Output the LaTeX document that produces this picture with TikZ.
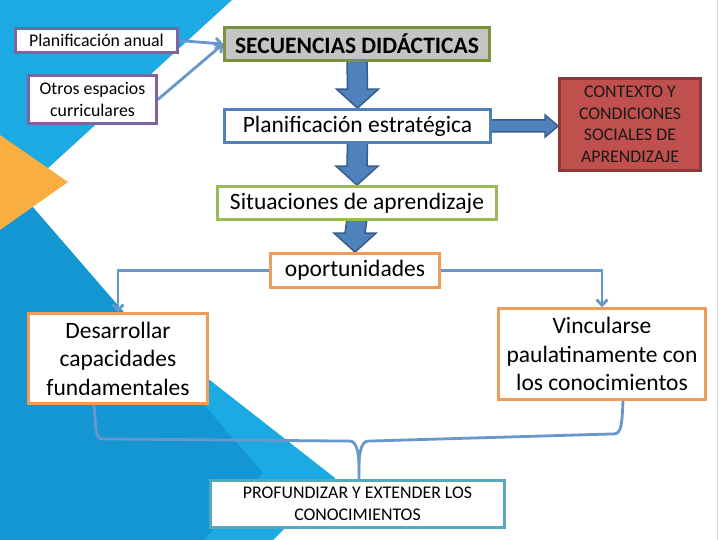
\documentclass[tikz,border=0pt]{standalone}
\usepackage{fontspec}
\setmainfont{Carlito}
\usetikzlibrary{arrows.meta,calc}
\definecolor{bgblue}{HTML}{1BAAE2}
\definecolor{bgdark}{HTML}{1496D2}
\definecolor{bgorange}{HTML}{F8AE40}
\definecolor{cpurple}{HTML}{8064A2}
\definecolor{colive}{HTML}{77933C}
\definecolor{cgray}{HTML}{C4C4C4}
\definecolor{cblue}{HTML}{4F81BD}
\definecolor{cbluedark}{HTML}{385D8A}
\definecolor{cgreen}{HTML}{9BBB59}
\definecolor{corange}{HTML}{EE9C5A}
\definecolor{cred}{HTML}{C0504D}
\definecolor{creddark}{HTML}{8C3836}
\definecolor{cteal}{HTML}{55A8C0}
\definecolor{conn}{HTML}{6897CC}
\pgfdeclarelayer{back}
\pgfdeclarelayer{mid}
\pgfsetlayers{back,mid,main}
\newcommand\blockdown[2]{%
  \draw[blockarrow] ($(#1.south)+(-10,-2)$) -- ($(#2.north)+(-10,-19)$) --
    ($(#2.north)+(-21,-19)$) -- (#2.north) -- ($(#2.north)+(21,-19)$) --
    ($(#2.north)+(10,-19)$) -- ($(#1.south)+(10,-2)$) -- cycle;}
\tikzset{
  box/.style={draw, line width=2.8pt, fill=white, inner sep=0pt, align=center, text=black},
  bigtxt/.style={font=\fontsize{23.5}{28.5}\selectfont},
  smalltxt/.style={font=\fontsize{17.8}{21.5}\selectfont},
  blockarrow/.style={fill=cblue, draw=cbluedark, line width=1.5pt, line join=miter},
  conn/.style={draw=conn, line width=2.8pt, -{Straight Barb[length=5.5pt,width=11pt]}},
  braceline/.style={draw=conn, line width=2.8pt}
}
\begin{document}
\begin{tikzpicture}[x=1pt,y=-1pt]
\useasboundingbox (0,0) rectangle (720,540);
% background shapes
\begin{pgfonlayer}{back}
\fill[white] (0,0) rectangle (720,540);
\fill[bgblue] (0,0) -- (232,0) -- (0,212) -- cycle;
\fill[bgblue] (0,216) -- (335,478) -- (273,540) -- (0,540) -- cycle;
\fill[bgdark] (0,169) -- (263,473) -- (204,540) -- (0,540) -- cycle;
\fill[bgorange] (0,135) -- (68,182) -- (0,230) -- cycle;
\draw[line width=1pt, black!15] (717.5,0) -- (717.5,540);
\end{pgfonlayer}
% nodes
\node[box, draw=cpurple, smalltxt, minimum width=161.5pt, minimum height=24pt] (anual) at (96.5,40.5) {Planificación anual};
\node[box, draw=cpurple, smalltxt, minimum width=128pt, minimum height=48pt] (otros) at (92.5,99.5) {Otros espacios\\curriculares};
\node[box, draw=colive, fill=cgray, font=\fontsize{23.5}{28.5}\selectfont\bfseries, minimum width=265pt, minimum height=33pt] (secu) at (357,44) {SECUENCIAS DIDÁCTICAS};
\node[box, draw=cblue, bigtxt, minimum width=266pt, minimum height=33pt] (estr) at (357.5,126) {Planificación estratégica};
\node[box, fill=cred, smalltxt, text=black!90, minimum width=141pt, minimum height=92pt, draw=creddark] (ctx) at (630,124.5) {CONTEXTO Y\\CONDICIONES\\SOCIALES DE\\APRENDIZAJE};
\node[box, draw=cgreen, bigtxt, minimum width=279pt, minimum height=33pt] (situ) at (357,203) {Situaciones de aprendizaje};
\node[box, draw=corange, bigtxt, minimum width=169pt, minimum height=34pt] (opor) at (355,270.5) {oportunidades};
\node[box, draw=corange, bigtxt, minimum width=179pt, minimum height=90pt] (desa) at (118,358.5) {Desarrollar\\capacidades\\fundamentales};
\node[box, draw=corange, bigtxt, minimum width=207pt, minimum height=91pt] (vinc) at (602,354) {Vincularse\\paulatinamente con\\los conocimientos};
\node[box, draw=cteal, smalltxt, minimum width=294pt, minimum height=47pt] (prof) at (357.5,504) {PROFUNDIZAR Y EXTENDER LOS\\CONOCIMIENTOS};
% connectors
\begin{pgfonlayer}{mid}
\blockdown{secu}{estr}
\blockdown{estr}{situ}
\blockdown{situ}{opor}
\coordinate (rt) at (estr.east -| ctx.west);
\draw[blockarrow] ($(estr.east)+(-2,-6)$) -- ($(rt)+(-13,-6)$) -- ($(rt)+(-13,-11)$) -- (rt) --
  ($(rt)+(-13,11)$) -- ($(rt)+(-13,6)$) -- ($(estr.east)+(-2,6)$) -- cycle;
\draw[conn] (anual.east) -- (secu.west);
\draw[conn] (otros.east) -- (secu.west);
\draw[conn] (opor.west) -| (desa.north);
\draw[conn] (opor.east) -| (vinc.north);
\coordinate (bl) at ($(desa.south)+(-24,0)$);
\coordinate (br) at ($(vinc.south)+(21,0)$);
\coordinate (bm) at ($(prof.north)+(1.5,-24)$);
\draw[braceline] (bl) .. controls ($(bl)+(2,22)$) and ($(bl)+(1,34)$) .. ($(bl)+(8,34)$)
  -- ($(bm)+(-9,-14)$) .. controls ($(bm)+(-2,-14)$) and (bm) .. ($(bm)+(0,10)$) -- (bm |- prof.north);
\draw[braceline] (br) .. controls ($(br)+(-1,20)$) and ($(br)+(-1,33)$) .. ($(br)+(-9,33)$)
  -- ($(bm)+(9,-14)$) .. controls ($(bm)+(2,-14)$) and (bm) .. ($(bm)+(0,10)$);
\end{pgfonlayer}
\end{tikzpicture}
\end{document}
